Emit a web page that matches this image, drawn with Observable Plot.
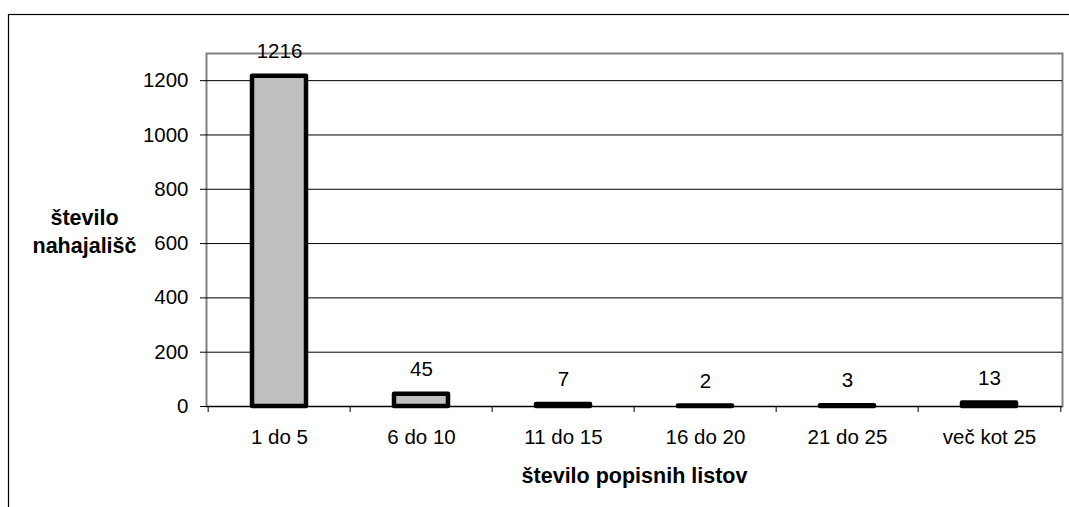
<!DOCTYPE html>
<html>
<head>
<meta charset="utf-8">
<script src="https://cdn.jsdelivr.net/npm/d3@7"></script>
<script src="https://cdn.jsdelivr.net/npm/@observablehq/plot@0.6"></script>
<style>
  body { margin: 0; background: #fff; }
  #chart { font-family: "Liberation Sans", Arial, sans-serif; }
</style>
</head>
<body>
<div id="chart"></div>
<script>
// Number of sites by number of record sheets
const categories = ["1 do 5", "6 do 10", "11 do 15", "16 do 20", "21 do 25", "več kot 25"];
const counts = [1216, 45, 7, 2, 3, 13];
const yTicks = [0, 200, 400, 600, 800, 1000, 1200];
const yTitle = "število\nnahajališč";
const xTitle = "število popisnih listov";

const data = categories.map((c, i) => ({category: c, count: counts[i]}));

const width = 1069, height = 507;
const marginLeft = 206, marginRight = 7, marginTop = 53, marginBottom = 101;
const step = (width - marginLeft - marginRight) / categories.length;
const font = "Liberation Sans, Arial, sans-serif";
const fs = 20.5;
const fsBold = 21.5;

const chart = Plot.plot({
  width, height, marginLeft, marginRight, marginTop, marginBottom,
  style: {fontFamily: font, fontSize: fs + "px", color: "#000", background: "#fff"},
  x: {domain: categories, paddingInner: 0.62, paddingOuter: 0.31, label: null},
  y: {domain: [0, 1300], label: null},
  marks: [
    Plot.frame({stroke: "#808080", strokeWidth: 2}),
    Plot.ruleY(yTicks.filter(d => d > 0), {stroke: "#000", strokeWidth: 1}),
    Plot.ruleY([0], {stroke: "#000", strokeWidth: 1}),
    Plot.axisY({ticks: yTicks, tickSize: 6, tickPadding: 12, fontSize: fs, tickFormat: d => String(d), label: null}),
    Plot.axisX({tickSize: 0, tickPadding: 23, fontSize: fs, label: null}),
    // category separators below the axis
    Plot.ruleX(categories, {x: d => d, dx: -step / 2, y1: 0, y2: -22, stroke: "#000"}),
    Plot.ruleX(categories.slice(-1), {x: d => d, dx: step / 2, y1: 0, y2: -22, stroke: "#000"}),
    Plot.barY(data, {x: "category", y: "count", fill: "#c0c0c0", stroke: "#000", strokeWidth: 4.5, strokeLinejoin: "round"}),
    Plot.text(data, {x: "category", y: "count", text: d => String(d.count), dy: -25, fontSize: fs, fill: "#000"}),
    Plot.text([yTitle], {frameAnchor: "left", dx: -122, textAnchor: "middle", lineAnchor: "middle", text: d => d, fontSize: fsBold, fontWeight: "bold", lineHeight: 1.28, fill: "#000"}),
    Plot.text([xTitle], {frameAnchor: "bottom", dy: 70, lineAnchor: "middle", text: d => d, fontSize: fsBold, fontWeight: "bold", fill: "#000"})
  ]
});

// outer chart-area border
d3.select(chart).style("overflow", "visible")
  .insert("rect", ":first-child")
  .attr("x", 8.5).attr("y", 14.5)
  .attr("width", 1100).attr("height", 600)
  .attr("fill", "none").attr("stroke", "#000").attr("stroke-width", 1.2);

document.getElementById("chart").appendChild(chart);
</script>
</body>
</html>
